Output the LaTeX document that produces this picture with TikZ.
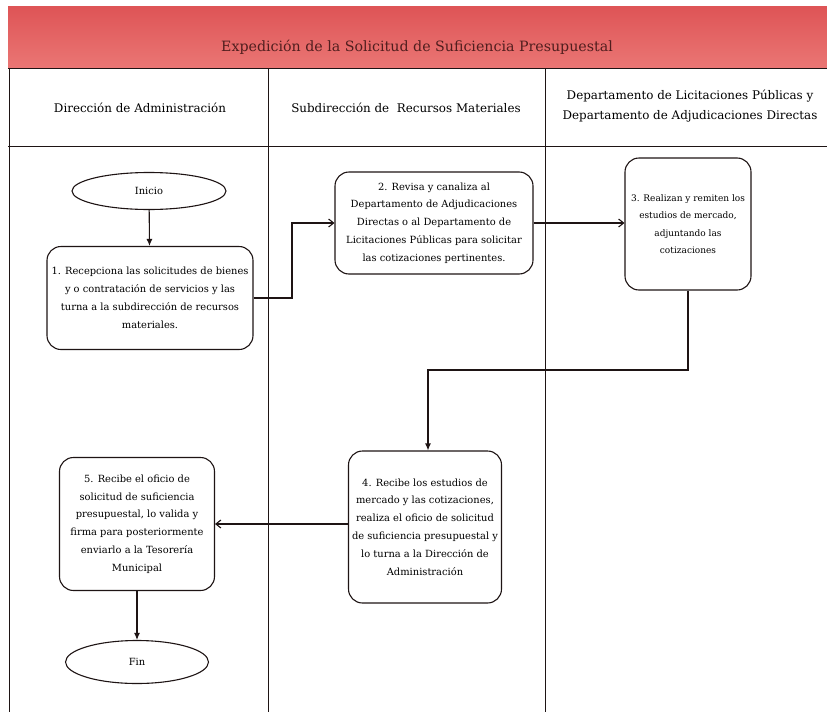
\documentclass[tikz,border=0pt]{standalone}
\usepackage{fontspec}
\setmainfont{DejaVu Serif}
\usetikzlibrary{shapes.geometric,arrows.meta}
\definecolor{band}{RGB}{222,84,86}
\definecolor{bandlight}{RGB}{234,118,116}
\definecolor{inkc}{RGB}{30,20,20}
\definecolor{titlec}{RGB}{80,30,30}
\tikzset{
  stepbox/.style={draw=inkc,line width=1.1pt,rounded corners=14pt,align=center,font=\fontsize{9.9}{17.8}\selectfont,inner sep=0pt},
  term/.style={draw=inkc,line width=1.1pt,ellipse,font=\fontsize{9.9}{12}\selectfont,inner sep=0pt},
  lane/.style={draw=inkc,line width=0.9pt},
  hdr/.style={font=\fontsize{11.9}{19.5}\selectfont,align=center},
  flow/.style={draw=inkc,line width=1.1pt,-{Latex[length=7pt,width=6pt]}},
  flowb/.style={draw=inkc,line width=1.1pt,-{Straight Barb[length=5pt,width=8pt]}}
}
\begin{document}
\begin{tikzpicture}[x=1pt,y=-1pt]
\useasboundingbox (0,0) rectangle (827,712);
\fill[white] (0,0) rectangle (827,712);
% title band
\shade[top color=band,bottom color=bandlight] (8,6) rectangle (827,68);
\node[font=\fontsize{14.2}{16}\selectfont,text=titlec] (title) at (417,47) {Expedición de la Solicitud de Suficiencia Presupuestal};
% lane lines
\draw[lane] (8,68) -- (827,68);
\draw[lane] (8,146) -- (827,146);
\draw[lane] (9,68) -- (9,712);
\draw[lane] (268,68) -- (268,712);
\draw[lane] (545,68) -- (545,712);
% headers
\node[hdr] (h1) at (140,108) {Dirección de Administración};
\node[hdr] (h2) at (406,108) {Subdirección de \ Recursos Materiales};
\node[hdr] (h3) at (690,106) {Departamento de Licitaciones Públicas y\\Departamento de Adjudicaciones Directas};
% nodes
\node[term,minimum width=154pt,minimum height=37pt] (ini) at (149,191) {Inicio};
\node[stepbox,minimum width=206pt,minimum height=103pt] (b1) at (150,298) {1. Recepciona las solicitudes de bienes\\y o contratación de servicios y las\\turna a la subdirección de recursos\\materiales.};
\node[stepbox,minimum width=198pt,minimum height=102pt] (b2) at (434,223) {2. Revisa y canaliza al\\Departamento de Adjudicaciones\\Directas o al Departamento de\\Licitaciones Públicas para solicitar\\las cotizaciones pertinentes.};
\node[stepbox,font=\fontsize{9}{17.5}\selectfont,minimum width=126pt,minimum height=132pt] (b3) at (688,224) {3. Realizan y remiten los\\estudios de mercado,\\adjuntando las\\cotizaciones};
\node[stepbox,minimum width=153pt,minimum height=152pt] (b4) at (425,527) {4. Recibe los estudios de\\mercado y las cotizaciones,\\realiza el oficio de solicitud\\de suficiencia presupuestal y\\lo turna a la Dirección de\\Administración};
\node[stepbox,minimum width=155pt,minimum height=133pt] (b5) at (137,524) {5. Recibe el oficio de\\solicitud de suficiencia\\presupuestal, lo valida y\\firma para posteriormente\\enviarlo a la Tesorería\\Municipal};
\node[term,minimum width=143pt,minimum height=43pt] (fin) at (137,662) {Fin};
% connectors
\coordinate (c1) at (292,298);
\coordinate (c2) at (292,223);
\coordinate (c3) at (688,370);
\coordinate (c4) at (428,370);
\draw[flow] (ini) -- (b1);
\draw[flowb] (b1.east) -- (c1) -- (c2) -- (b2.west);
\draw[flowb] (b2.east) -- (b3.west |- b2.east);
\draw[flow] (b3.south) -- (c3) -- (c4) -- (c4 |- b4.north);
\draw[flowb] (b4.west |- b5.east) -- (b5.east);
\draw[flow] (b5.south) -- (fin.north);
\end{tikzpicture}
\end{document}
